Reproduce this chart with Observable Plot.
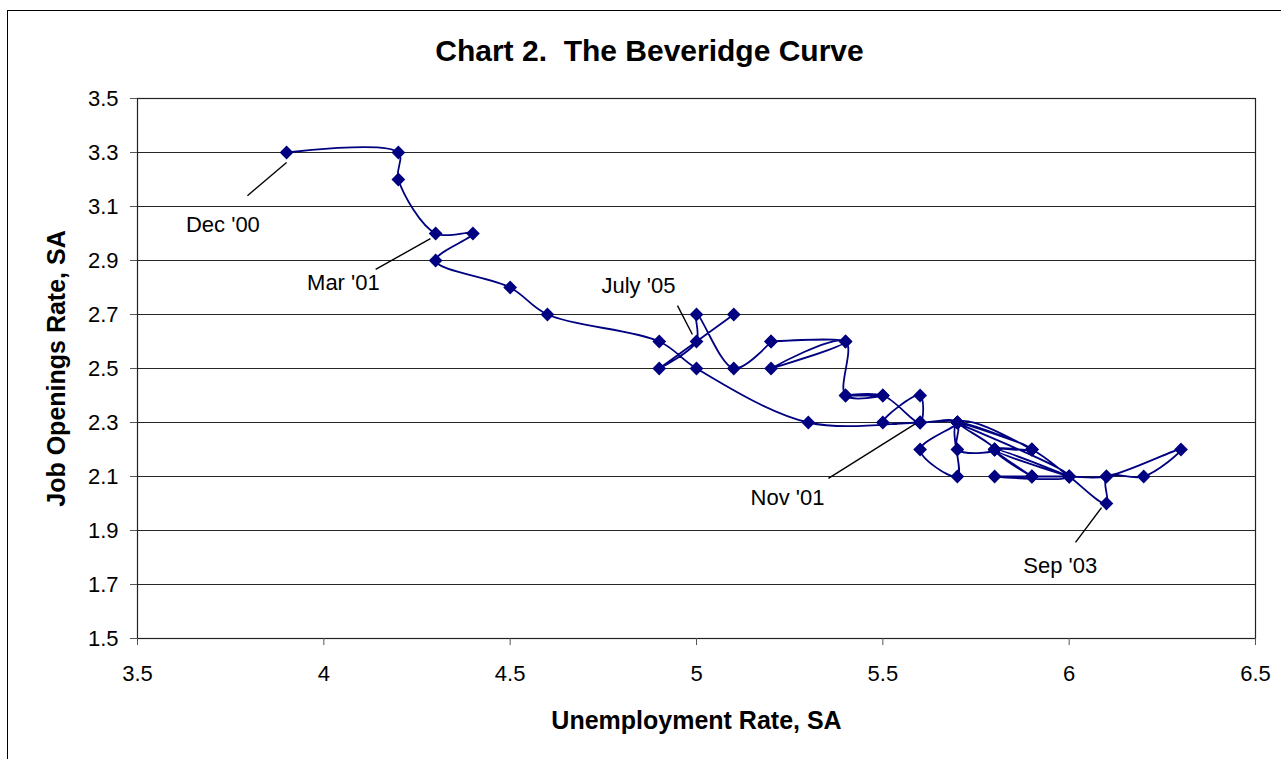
<!DOCTYPE html>
<html>
<head>
<meta charset="utf-8">
<script src="https://cdn.jsdelivr.net/npm/d3@7"></script>
<script src="https://cdn.jsdelivr.net/npm/@observablehq/plot@0.6"></script>
<style>
  html, body { margin: 0; padding: 0; background: #fff; }
  #wrap { position: relative; width: 1281px; height: 759px; overflow: hidden;
          font-family: Arial, "Liberation Sans", sans-serif; color: #000; }
  #frame { position: absolute; left: 7px; top: 10px; width: 1400px; height: 900px;
           border-left: 1.5px solid #000; border-top: 1.5px solid #000; }
  #title { position: absolute; left: 0; top: 34px; width: 1299px; text-align: center;
           font-weight: bold; font-size: 30px; white-space: pre; }
  #chart { position: absolute; left: 0; top: 80px; }
  #chart svg [aria-label="y-axis label"], #chart svg [aria-label="x-axis label"] { font-weight: bold; font-size: 25px; }
</style>
</head>
<body>
<div id="wrap">
  <div id="frame"></div>
  <div id="title">Chart 2.  The Beveridge Curve</div>
  <div id="chart"></div>
</div>
<script>
// Months Dec 2000 – Sep 2005
const months = [
  "Dec '00",
  "Jan '01","Feb '01","Mar '01","Apr '01","May '01","Jun '01","Jul '01","Aug '01","Sep '01","Oct '01","Nov '01","Dec '01",
  "Jan '02","Feb '02","Mar '02","Apr '02","May '02","Jun '02","Jul '02","Aug '02","Sep '02","Oct '02","Nov '02","Dec '02",
  "Jan '03","Feb '03","Mar '03","Apr '03","May '03","Jun '03","Jul '03","Aug '03","Sep '03","Oct '03","Nov '03","Dec '03",
  "Jan '04","Feb '04","Mar '04","Apr '04","May '04","Jun '04","Jul '04","Aug '04","Sep '04","Oct '04","Nov '04","Dec '04",
  "Jan '05","Feb '05","Mar '05","Apr '05","May '05","Jun '05","Jul '05","Aug '05","Sep '05"
];
// Unemployment rate, SA (x)
const unemployment = [
  3.9, 4.2, 4.2, 4.3, 4.4, 4.3, 4.5, 4.6, 4.9, 5.0,
  5.3, 5.6, 5.7, 5.7, 5.8, 5.7, 5.9, 5.8, 5.9, 5.8,
  6.0, 5.8, 5.9, 5.7, 6.0, 5.8, 5.9, 5.9, 6.0, 6.1,
  6.3, 6.2, 6.1, 6.1, 6.0, 5.9, 5.7, 5.7, 5.6, 5.7,
  5.6, 5.5, 5.6, 5.6, 5.5, 5.4, 5.5, 5.4, 5.4, 5.2,
  5.4, 5.2, 5.2, 5.1, 5.0, 5.0, 4.9, 5.1
];
// Job openings rate, SA (y)
const openings = [
  3.3, 3.3, 3.2, 3.0, 3.0, 2.9, 2.8, 2.7, 2.6, 2.5,
  2.3, 2.3, 2.3, 2.2, 2.2, 2.3, 2.2, 2.2, 2.1, 2.2,
  2.1, 2.2, 2.2, 2.3, 2.1, 2.1, 2.1, 2.1, 2.1, 2.1,
  2.2, 2.1, 2.1, 2.0, 2.1, 2.2, 2.3, 2.1, 2.2, 2.3,
  2.3, 2.3, 2.4, 2.3, 2.4, 2.4, 2.4, 2.4, 2.6, 2.5,
  2.6, 2.6, 2.6, 2.5, 2.7, 2.6, 2.5, 2.7
];
const xTicks = [3.5, 4, 4.5, 5, 5.5, 6, 6.5];
const yTicks = [1.5, 1.7, 1.9, 2.1, 2.3, 2.5, 2.7, 2.9, 3.1, 3.3, 3.5];

// Callout labels
const noteText  = ["Dec '00", "Mar '01", "July '05", "Nov '01", "Sep '03"];
const noteMonth = ["Dec '00", "Mar '01", "Jul '05", "Nov '01", "Sep '03"];

const data = months.map((m, i) => ({month: m, u: unemployment[i], v: openings[i]}));

// annotation layout (data units)
const noteLayout = [
  {tx: 3.63, ty: 3.03, x1: 3.795, y1: 3.14, x2: 3.90, y2: 3.263},
  {tx: 3.955, ty: 2.815, x1: 4.139, y1: 2.867, x2: 4.286, y2: 2.981},
  {tx: 4.745, ty: 2.807, x1: 4.949, y1: 2.733, x2: 4.989, y2: 2.626},
  {tx: 5.145, ty: 2.022, x1: 5.354, y1: 2.093, x2: 5.588, y2: 2.296},
  {tx: 5.877, ty: 1.767, x1: 6.017, y1: 1.856, x2: 6.087, y2: 1.985}
];
const notes = noteText.map((t, i) => ({text: t, month: noteMonth[i], ...noteLayout[i]}));

const chart = Plot.plot({
  width: 1281,
  height: 679,
  marginTop: 18,
  marginLeft: 137,
  marginRight: 26,
  marginBottom: 121,
  style: {fontFamily: 'Arial, "Liberation Sans", sans-serif', fontSize: "22px", color: "#000", background: "transparent"},
  x: {domain: [3.5, 6.5]},
  y: {domain: [1.5, 3.5]},
  marks: [
    Plot.gridY(yTicks, {stroke: "#000", strokeOpacity: 0.85, strokeWidth: 1}),
    Plot.frame({stroke: "#222", strokeWidth: 1.2}),
    Plot.axisY(yTicks, {
      tickSize: 7, tickPadding: 12, tickFormat: d3.format(".1f"), fontSize: 22,
      stroke: "#555",
      label: "Job Openings Rate, SA", labelAnchor: "center", labelArrow: "none", labelOffset: 90
    }),
    Plot.axisX(xTicks, {
      tickSize: 7, tickPadding: 20, tickFormat: d3.format("~g"), fontSize: 22,
      stroke: "#555",
      label: "Unemployment Rate, SA", labelAnchor: "center", labelArrow: "none", labelOffset: 90
    }),
    Plot.link(notes, {x1: "x1", y1: "y1", x2: "x2", y2: "y2", stroke: "#000", strokeWidth: 1.4}),
    Plot.text(notes, {x: "tx", y: "ty", text: "text", textAnchor: "start", fontSize: 22, fill: "#000"}),
    Plot.line(data, {x: "u", y: "v", curve: "catmull-rom", stroke: "#000080", strokeWidth: 1.8}),
    Plot.dot(data, {x: "u", y: "v", symbol: "diamond2", r: 6.2, fill: "#000080", stroke: "none"})
  ]
});
document.getElementById("chart").appendChild(chart);
</script>
</body>
</html>
